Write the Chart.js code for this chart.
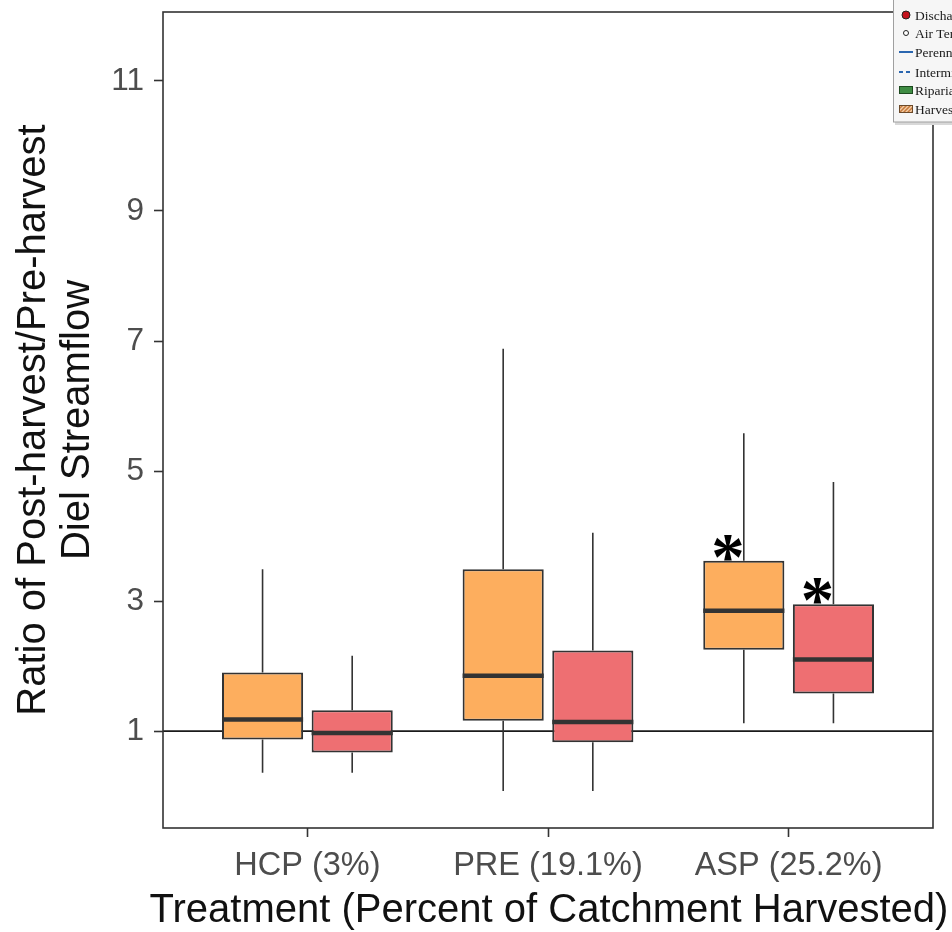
<!DOCTYPE html>
<html>
<head>
<meta charset="utf-8">
<script src="https://cdn.jsdelivr.net/npm/chart.js@4"></script>
<style>
  html, body { margin: 0; padding: 0; background: #fff; overflow: hidden; }
  canvas { display: block; }
</style>
</head>
<body>
<canvas id="boxChart" width="952" height="932"></canvas>
<script>
// categories along the x axis (placed at 1, 2, 3 on a linear scale)
const categories = ['HCP (3%)', 'PRE (19.1%)', 'ASP (25.2%)'];
const categoryPositions = [1, 2, 3];
const yTicks = [1, 3, 5, 7, 9, 11];
const xTitle = 'Treatment (Percent of Catchment Harvested)';

// orange boxes
const orangeLow = [0.36, 0.08, 1.12];
const orangeQ1 = [0.87, 1.16, 2.25];
const orangeMedian = [1.18, 1.85, 2.85];
const orangeQ3 = [1.90, 3.49, 3.62];
const orangeHigh = [3.49, 6.88, 5.58];
const orangeSignificant = [false, false, true];

// red boxes
const redLow = [0.36, 0.08, 1.12];
const redQ1 = [0.67, 0.83, 1.58];
const redMedian = [0.97, 1.14, 2.10];
const redQ3 = [1.32, 2.24, 2.95];
const redHigh = [2.16, 4.05, 4.83];
const redSignificant = [false, false, true];

const referenceValue = 1;

// the cropped legend in the top-right corner
const legendLabels = ['Discharge', 'Air Temperature', 'Perennial', 'Intermittent', 'Riparian', 'Harvest'];

const FONT = '"Liberation Sans", Arial, sans-serif';
const INK = '#333333';

const boxStats = [
  { low: orangeLow, median: orangeMedian, high: orangeHigh, q1: orangeQ1, q3: orangeQ3, star: orangeSignificant },
  { low: redLow, median: redMedian, high: redHigh, q1: redQ1, q3: redQ3, star: redSignificant }
];

function boxData(q1, q3) {
  return categoryPositions.map((x, i) => ({ x: x, y: [q1[i], q3[i]] }));
}

// whiskers, medians, reference line, frame, asterisks, legend fragment
const boxPlotExtras = {
  id: 'boxPlotExtras',
  beforeDatasetsDraw(chart) {
    const { ctx, chartArea, scales } = chart;
    const y = scales.y;
    ctx.save();
    // horizontal line at ratio = 1
    ctx.strokeStyle = '#1a1a1a';
    ctx.lineWidth = 1.6;
    ctx.beginPath();
    ctx.moveTo(chartArea.left, y.getPixelForValue(referenceValue));
    ctx.lineTo(chartArea.right, y.getPixelForValue(referenceValue));
    ctx.stroke();

    // whiskers
    ctx.strokeStyle = INK;
    ctx.lineWidth = 1.6;
    boxStats.forEach((s, d) => {
      chart.getDatasetMeta(d).data.forEach((bar, i) => {
        ctx.beginPath();
        ctx.moveTo(bar.x, y.getPixelForValue(s.high[i]));
        ctx.lineTo(bar.x, y.getPixelForValue(s.q3[i]));
        ctx.moveTo(bar.x, y.getPixelForValue(s.q1[i]));
        ctx.lineTo(bar.x, y.getPixelForValue(s.low[i]));
        ctx.stroke();
      });
    });
    ctx.restore();
  },
  afterDatasetsDraw(chart) {
    const { ctx, chartArea, scales } = chart;
    const y = scales.y;
    ctx.save();
    // medians
    ctx.strokeStyle = INK;
    ctx.lineWidth = 4.5;
    boxStats.forEach((s, d) => {
      chart.getDatasetMeta(d).data.forEach((bar, i) => {
        const py = y.getPixelForValue(s.median[i]);
        ctx.beginPath();
        ctx.moveTo(bar.x - bar.width / 2, py);
        ctx.lineTo(bar.x + bar.width / 2, py);
        ctx.stroke();
      });
    });

    // asterisks above significant boxes
    ctx.fillStyle = '#000';
    ctx.font = 'bold 100px "Liberation Serif", "Times New Roman", serif';
    const m = ctx.measureText('*');
    const w100 = m.actualBoundingBoxLeft + m.actualBoundingBoxRight;
    const size = 100 * 28 / w100;
    ctx.font = 'bold ' + size + 'px "Liberation Serif", "Times New Roman", serif';
    ctx.textAlign = 'center';
    ctx.textBaseline = 'alphabetic';
    const mm = ctx.measureText('*');
    const halfH = (mm.actualBoundingBoxAscent - mm.actualBoundingBoxDescent) / 2;
    boxStats.forEach((s, d) => {
      chart.getDatasetMeta(d).data.forEach((bar, i) => {
        if (!s.star[i]) return;
        const cy = y.getPixelForValue(s.q3[i]) - 13;
        ctx.fillText('*', bar.x - 16, cy + halfH);
      });
    });

    // frame around the panel
    ctx.strokeStyle = INK;
    ctx.lineWidth = 1.6;
    ctx.strokeRect(chartArea.left, chartArea.top, chartArea.right - chartArea.left, chartArea.bottom - chartArea.top);
    ctx.restore();
  },
  afterDraw(chart) {
    const { ctx, chartArea } = chart;
    ctx.save();
    // x axis title, a bit wider than the panel so drawn here
    ctx.fillStyle = '#111';
    ctx.font = '40px ' + FONT;
    ctx.textAlign = 'center';
    ctx.textBaseline = 'alphabetic';
    ctx.fillText(xTitle, (chartArea.left + chartArea.right) / 2 + 1, 922);

    // legend box (cut off by the right edge)
    ctx.fillStyle = '#d8d8d8';
    ctx.fillRect(895, 0, 70, 125);
    ctx.fillStyle = '#f6f6f6';
    ctx.fillRect(893, -2, 70, 124);
    ctx.strokeStyle = '#a0a0a0';
    ctx.lineWidth = 1;
    ctx.strokeRect(893.5, -2, 70, 124);

    const rows = [15, 33, 52, 72, 90, 109];
    const ix = 906;
    // discharge dot
    ctx.fillStyle = '#c3121c';
    ctx.strokeStyle = '#222';
    ctx.beginPath();
    ctx.arc(ix, rows[0], 4, 0, Math.PI * 2);
    ctx.fill();
    ctx.stroke();
    // air temperature dot
    ctx.fillStyle = '#fff';
    ctx.beginPath();
    ctx.arc(ix, rows[1], 2.5, 0, Math.PI * 2);
    ctx.fill();
    ctx.stroke();
    // perennial / intermittent lines
    ctx.strokeStyle = '#2a66b0';
    ctx.lineWidth = 2;
    ctx.beginPath();
    ctx.moveTo(899, rows[2]);
    ctx.lineTo(913, rows[2]);
    ctx.stroke();
    ctx.setLineDash([4, 3]);
    ctx.beginPath();
    ctx.moveTo(899, rows[3]);
    ctx.lineTo(913, rows[3]);
    ctx.stroke();
    ctx.setLineDash([]);
    // riparian
    ctx.fillStyle = '#3f8c43';
    ctx.strokeStyle = '#1d4a1f';
    ctx.lineWidth = 1;
    ctx.fillRect(899.5, rows[4] - 3.5, 13, 7);
    ctx.strokeRect(899.5, rows[4] - 3.5, 13, 7);
    // harvest (hatched)
    ctx.fillStyle = '#f3cda6';
    ctx.fillRect(899.5, rows[5] - 3.5, 13, 7);
    ctx.save();
    ctx.beginPath();
    ctx.rect(899.5, rows[5] - 3.5, 13, 7);
    ctx.clip();
    ctx.strokeStyle = '#c77a3c';
    ctx.lineWidth = 1.5;
    for (let k = -8; k < 16; k += 4) {
      ctx.beginPath();
      ctx.moveTo(899.5 + k, rows[5] + 3.5);
      ctx.lineTo(899.5 + k + 7, rows[5] - 3.5);
      ctx.stroke();
    }
    ctx.restore();
    ctx.strokeStyle = '#6b4a2a';
    ctx.strokeRect(899.5, rows[5] - 3.5, 13, 7);

    ctx.fillStyle = '#1a1a1a';
    ctx.font = '13.5px "Liberation Serif", "Times New Roman", serif';
    ctx.textAlign = 'left';
    ctx.textBaseline = 'middle';
    legendLabels.forEach((t, i) => ctx.fillText(t, 915, rows[i] + 1));
    ctx.restore();
  }
};

new Chart(document.getElementById('boxChart'), {
  type: 'bar',
  data: {
    datasets: [
      {
        label: 'Orange',
        data: boxData(orangeQ1, orangeQ3),
        backgroundColor: '#fdae5e',
        borderColor: INK,
        borderWidth: 2,
        borderSkipped: false,
        categoryPercentage: 0.745,
        barPercentage: 0.905
      },
      {
        label: 'Red',
        data: boxData(redQ1, redQ3),
        backgroundColor: '#ee6f72',
        borderColor: INK,
        borderWidth: 2,
        borderSkipped: false,
        categoryPercentage: 0.745,
        barPercentage: 0.905
      }
    ]
  },
  options: {
    responsive: false,
    animation: false,
    devicePixelRatio: 1,
    layout: { padding: { top: 12, right: 19, left: 0, bottom: 0 } },
    plugins: {
      legend: { display: false },
      tooltip: { enabled: false }
    },
    scales: {
      x: {
        type: 'linear',
        min: 0.4,
        max: 3.6,
        offset: false,
        afterBuildTicks: (scale) => { scale.ticks = categoryPositions.map(v => ({ value: v })); },
        afterFit: (scale) => {
          scale.height = 104;
          scale.paddingLeft = 0;
          scale.paddingRight = 0;
        },
        ticks: {
          autoSkip: false,
          maxRotation: 0,
          padding: 10,
          color: '#4d4d4d',
          font: { family: FONT, size: 32.5 },
          callback: (value) => categories[categoryPositions.indexOf(value)] || ''
        },
        grid: {
          offset: false,
          drawOnChartArea: false,
          drawTicks: true,
          tickLength: 9,
          tickWidth: 1.6,
          tickColor: INK
        },
        border: { display: false }
      },
      y: {
        type: 'linear',
        min: -0.49,
        max: 12.06,
        afterBuildTicks: (scale) => { scale.ticks = yTicks.map(v => ({ value: v })); },
        afterFit: (scale) => {
          scale.width = 163;
          scale.paddingTop = 0;
          scale.paddingBottom = 0;
        },
        ticks: {
          padding: 10,
          color: '#4d4d4d',
          font: { family: FONT, size: 31.5 },
          callback: (value) => String(value)
        },
        grid: {
          drawOnChartArea: false,
          drawTicks: true,
          tickLength: 9,
          tickWidth: 1.6,
          tickColor: INK
        },
        border: { display: false },
        title: {
          display: true,
          text: ['Ratio of Post-harvest/Pre-harvest', 'Diel Streamflow'],
          color: '#111',
          font: { family: FONT, size: 40, lineHeight: 1.1 },
          padding: { top: 12, bottom: 0 }
        }
      }
    }
  },
  plugins: [boxPlotExtras]
});
</script>
</body>
</html>
